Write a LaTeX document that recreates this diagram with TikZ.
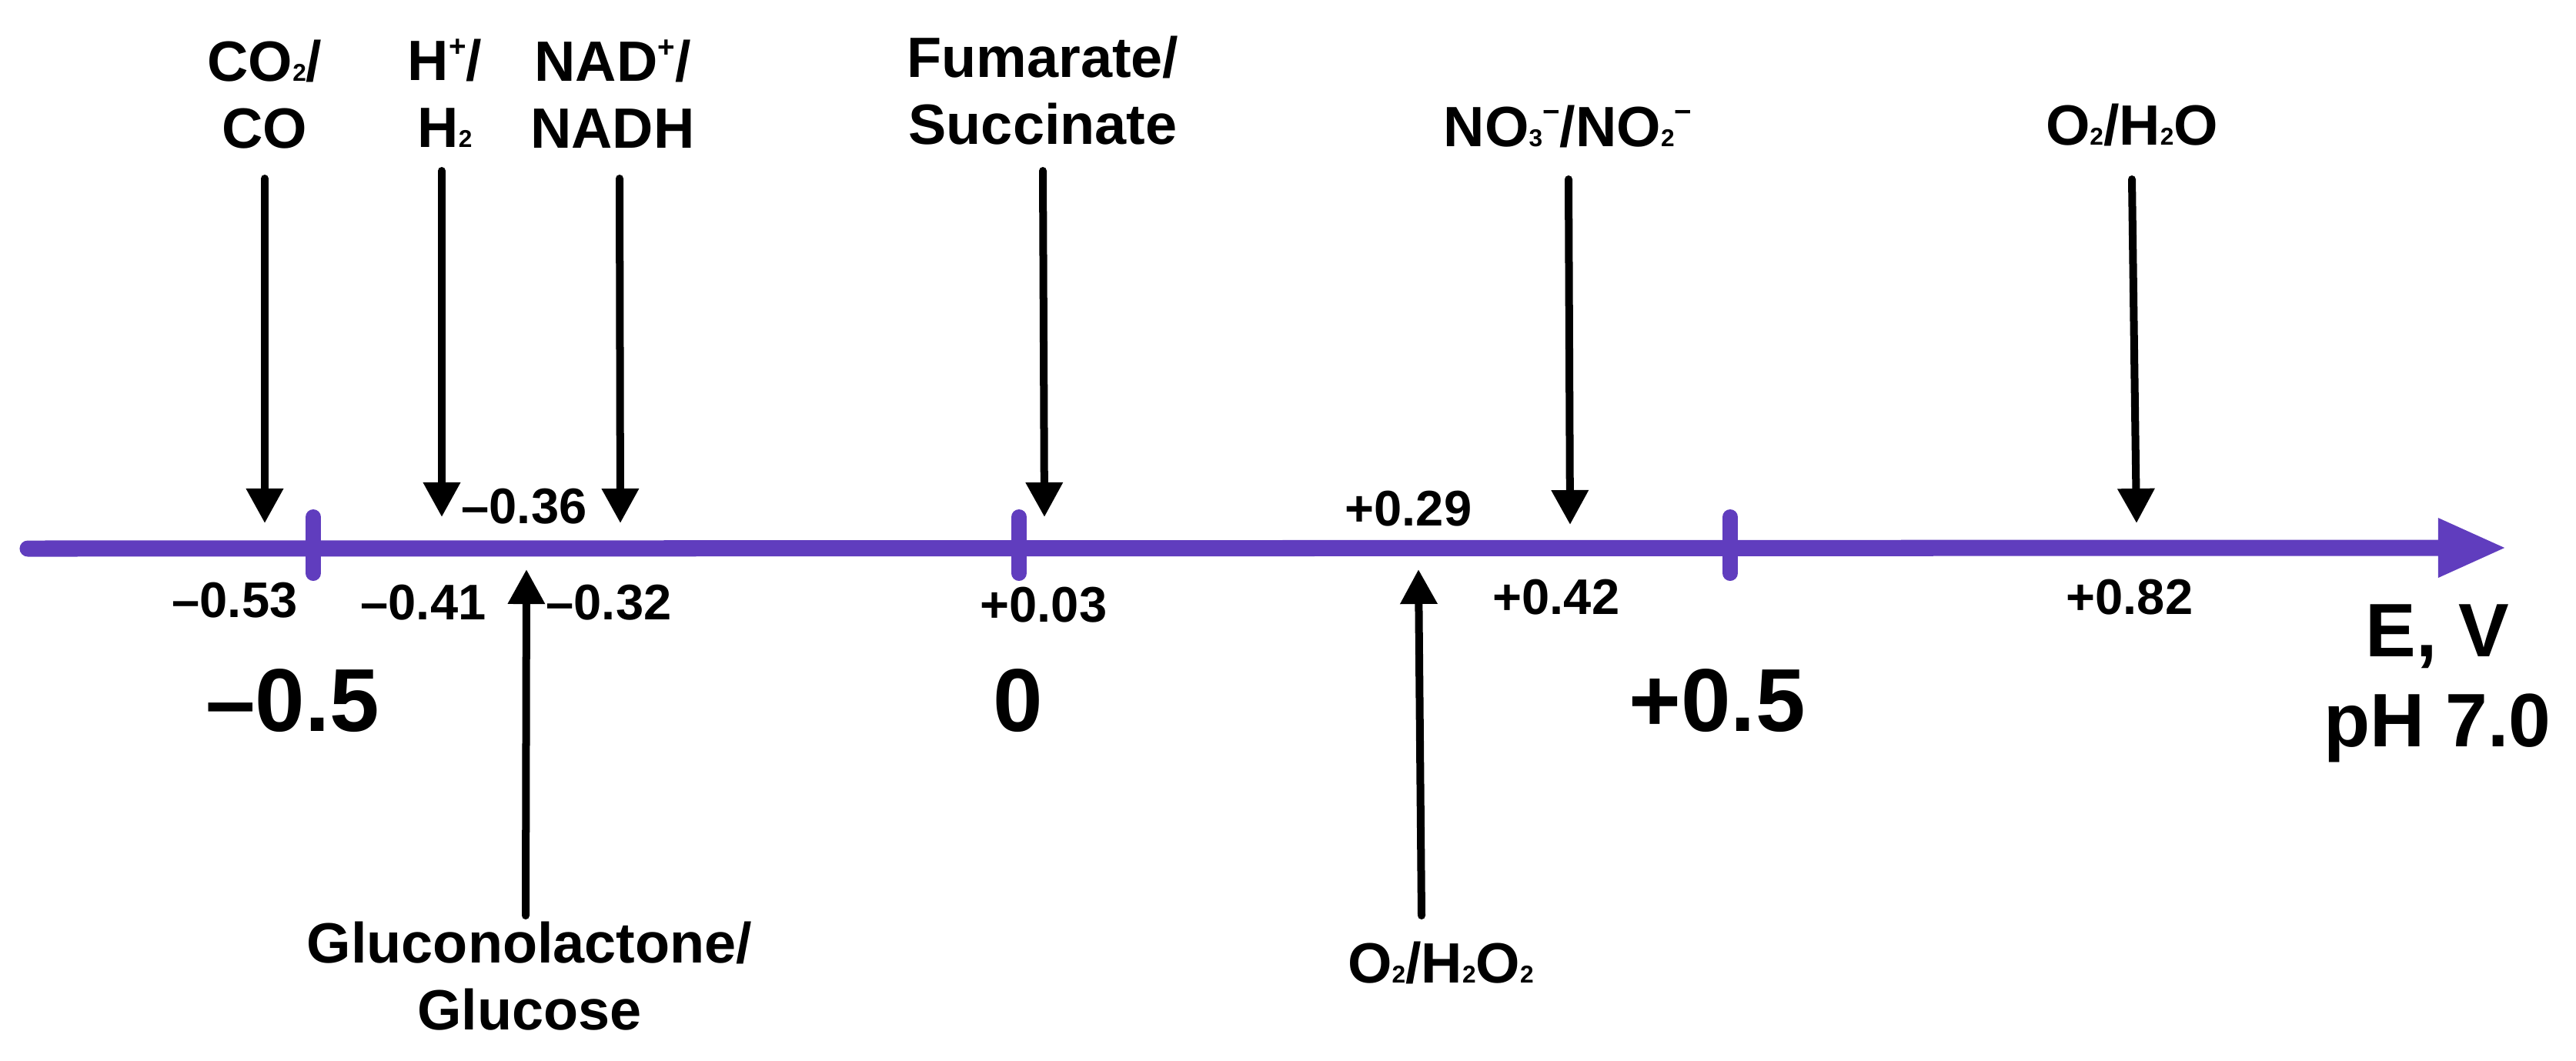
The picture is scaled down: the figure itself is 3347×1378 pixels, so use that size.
\documentclass[tikz,border=0pt]{standalone}
\usepackage{fontspec}
\setmainfont{Liberation Sans}
\usetikzlibrary{arrows.meta}
\definecolor{axispurple}{RGB}{96,61,190}
\newcommand\sbt[1]{{\fontsize{9pt}{9pt}\selectfont #1}}
\newcommand\spp[1]{\raisebox{9pt}{\fontsize{11pt}{11pt}\selectfont #1}}
\begin{document}
\begin{tikzpicture}[x=0.01cm,y=-0.01cm,
  lab/.style={font=\bfseries\fontsize{21pt}{24.5pt}\selectfont, align=center, anchor=base, inner sep=0pt},
  val/.style={font=\bfseries\fontsize{18.5pt}{22pt}\selectfont, anchor=base, inner sep=0pt},
  big/.style={font=\bfseries\fontsize{33pt}{38pt}\selectfont, anchor=base, inner sep=0pt},
  ptr/.style={line width=0.1cm, line cap=round, -{Triangle[length=0.45cm,width=0.46cm]}},
  axisln/.style={draw=axispurple, line width=0.21cm, line cap=round, -{Triangle[length=0.89cm,width=0.71cm]}},
  tickm/.style={draw=axispurple, line width=0.2cm, line cap=round}]
\useasboundingbox (0,0) rectangle (3347,1378);

% axis
\coordinate (axL) at (36,713);
\coordinate (axR) at (3257,712);
\draw[axisln] (axL) -- (axR);
\coordinate (t1a) at (407,672);  \coordinate (t1b) at (407,745);
\coordinate (t2a) at (1324,672); \coordinate (t2b) at (1324,745);
\coordinate (t3a) at (2248,672); \coordinate (t3b) at (2248,745);
\draw[tickm] (t1a) -- (t1b);
\draw[tickm] (t2a) -- (t2b);
\draw[tickm] (t3a) -- (t3b);

% top labels (anchor = baseline of last line)
\node[lab] (co2) at (344,192) {CO\sbt{2}/\\CO};
\node[lab] (hh) at (578,191) {H\spp{+}/\\H\sbt{2}};
\node[lab] (nad) at (796,192) {NAD\spp{+}/\\NADH};
\node[lab] (fum) at (1355,187) {Fumarate/\\Succinate};
\node[lab] (no3) at (2037,190) {NO\sbt{3}\spp{−}/NO\sbt{2}\spp{−}};
\node[lab] (o2w) at (2770,188) {O\sbt{2}/H\sbt{2}O};
% bottom labels
\node[lab] (glu) at (688,1338) {Gluconolactone/\\Glucose};
\node[lab] (o2p) at (1872,1277) {O\sbt{2}/H\sbt{2}O\sbt{2}};

% pointer ends
\coordinate (co2s) at (344,232);  \coordinate (co2e) at (344,680);
\coordinate (hhs) at (574,222);   \coordinate (hhe) at (574,672);
\coordinate (nads) at (805,232);  \coordinate (nade) at (806,680);
\coordinate (fums) at (1355,222); \coordinate (fume) at (1357,672);
\coordinate (no3s) at (2038,233); \coordinate (no3e) at (2040,682);
\coordinate (o2ws) at (2770,233); \coordinate (o2we) at (2776,680);
\coordinate (glus) at (683,1190); \coordinate (glue) at (684,740);
\coordinate (o2ps) at (1847,1190); \coordinate (o2pe) at (1843,740);
\draw[ptr] (co2s) -- (co2e);
\draw[ptr] (hhs) -- (hhe);
\draw[ptr] (nads) -- (nade);
\draw[ptr] (fums) -- (fume);
\draw[ptr] (no3s) -- (no3e);
\draw[ptr] (o2ws) -- (o2we);
\draw[ptr] (glus) -- (glue);
\draw[ptr] (o2ps) -- (o2pe);

% values
\node[val] (v1) at (305,802) {–0.53};
\node[val] (v2) at (550,805) {–0.41};
\node[val] (v3) at (681,680) {–0.36};
\node[val] (v4) at (791,805) {–0.32};
\node[val] (v5) at (1356,808) {+0.03};
\node[val] (v6) at (1830,683) {+0.29};
\node[val] (v7) at (2022,798) {+0.42};
\node[val] (v8) at (2767,798) {+0.82};

% big scale labels
\node[big] (b1) at (380,950) {–0.5};
\node[big] (b2) at (1323,950) {0};
\node[big] (b3) at (2231,950) {+0.5};
\node[font=\bfseries\fontsize{28pt}{33pt}\selectfont, align=center, anchor=base, inner sep=0pt] (ev) at (3167,970) {E, V\\pH 7.0};
\end{tikzpicture}
\end{document}
